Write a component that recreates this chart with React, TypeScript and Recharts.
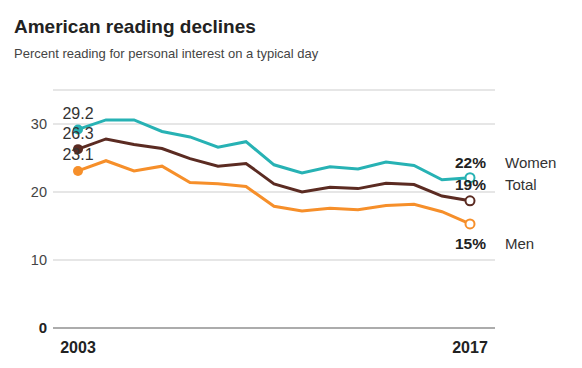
import React from "react";
import {
  LineChart,
  Line,
  XAxis,
  YAxis,
  CartesianGrid,
  LabelList,
} from "recharts";

const years = [
  2003, 2004, 2005, 2006, 2007, 2008, 2009, 2010, 2011, 2012, 2013, 2014,
  2015, 2016, 2017,
];
const women = [
  29.2, 30.6, 30.6, 28.9, 28.1, 26.6, 27.4, 24.0, 22.8, 23.7, 23.4, 24.4,
  23.9, 21.8, 22.1,
];
const total = [
  26.3, 27.8, 27.0, 26.4, 24.9, 23.8, 24.2, 21.2, 20.0, 20.7, 20.5, 21.3,
  21.1, 19.4, 18.7,
];
const men = [
  23.1, 24.6, 23.1, 23.8, 21.4, 21.2, 20.8, 17.9, 17.2, 17.6, 17.4, 18.0,
  18.2, 17.1, 15.3,
];
const yTicks = [0, 10, 20, 30];
const xTicks = [2003, 2017];

const data = years.map((year, i) => ({
  year,
  women: women[i],
  total: total[i],
  men: men[i],
}));

const FONT = "'Liberation Sans', Arial, sans-serif";
const last = years.length - 1;

const series = [
  { key: "women", name: "Women", color: "#27b2b4", endDy: -10 },
  { key: "total", name: "Total", color: "#5b2b22", endDy: -11 },
  { key: "men", name: "Men", color: "#f68f2a", endDy: 25 },
];

function makeDot(color: string) {
  return (props: any) => {
    const { cx, cy, index } = props;
    if (index === 0) {
      return <circle key={`d${index}`} cx={cx} cy={cy} r={5} fill={color} />;
    }
    if (index === last) {
      return (
        <circle
          key={`d${index}`}
          cx={cx}
          cy={cy}
          r={4.5}
          fill="#fff"
          stroke={color}
          strokeWidth={2}
        />
      );
    }
    return <g key={`d${index}`} />;
  };
}

function makeLabel(name: string, endDy: number) {
  return (props: any) => {
    const { x, y, value, index } = props;
    if (index === 0) {
      return (
        <text
          key={`l${index}`}
          x={x}
          y={y - 10.5}
          textAnchor="middle"
          fontSize={16}
          fill="#333"
          fontFamily={FONT}
        >
          {value}
        </text>
      );
    }
    if (index === last) {
      return (
        <g key={`l${index}`}>
          <text
            x={x + 16}
            y={y + endDy}
            textAnchor="end"
            fontSize={15.5}
            fontWeight="bold"
            fill="#222"
            fontFamily={FONT}
          >
            {Math.round(value)}%
          </text>
          <text
            x={x + 35}
            y={y + endDy}
            fontSize={15}
            fill="#333"
            fontFamily={FONT}
          >
            {name}
          </text>
        </g>
      );
    }
    return null;
  };
}

const renderYTick = (props: any) => {
  const { x, y, payload } = props;
  const zero = payload.value === 0;
  return (
    <text
      x={x}
      y={y}
      dy={5}
      textAnchor="end"
      fontSize={zero ? 15 : 14.5}
      fontWeight={zero ? "bold" : "normal"}
      fill={zero ? "#222" : "#444"}
      fontFamily={FONT}
    >
      {payload.value}
    </text>
  );
};

export default function App() {
  return (
    <div
      style={{
        position: "absolute",
        left: 0,
        top: 0,
        width: 582,
        height: 368,
        background: "#fff",
        fontFamily: FONT,
      }}
    >
      <div
        style={{
          position: "absolute",
          left: 14,
          top: 17,
          fontSize: 19,
          lineHeight: "19px",
          fontWeight: "bold",
          color: "#222",
          whiteSpace: "nowrap",
        }}
      >
        American reading declines
      </div>
      <div
        style={{
          position: "absolute",
          left: 14,
          top: 47,
          fontSize: 13,
          lineHeight: "13px",
          color: "#444",
          whiteSpace: "nowrap",
        }}
      >
        Percent reading for personal interest on a typical day
      </div>
      <LineChart
        width={582}
        height={368}
        data={data}
        margin={{ top: 90, right: 87, bottom: 0, left: 0 }}
      >
        <CartesianGrid vertical={false} stroke="#dedede" strokeWidth={1.5} />
        <XAxis
          dataKey="year"
          type="number"
          domain={[2003, 2017]}
          ticks={xTicks}
          padding={{ left: 25, right: 25 }}
          height={40}
          tickLine={false}
          axisLine={{ stroke: "#999", strokeWidth: 1.5 }}
          tickSize={0}
          tickMargin={14}
          tick={{
            fontSize: 16,
            fontWeight: "bold",
            fill: "#222",
            fontFamily: FONT,
          }}
        />
        <YAxis
          domain={[0, 35]}
          ticks={yTicks}
          width={53}
          tickLine={false}
          axisLine={false}
          tickSize={0}
          tickMargin={6}
          tick={renderYTick}
        />
        {series.map((s) => (
          <Line
            key={s.key}
            dataKey={s.key}
            type="linear"
            stroke={s.color}
            strokeWidth={3}
            dot={makeDot(s.color)}
            activeDot={false}
            isAnimationActive={false}
          >
            <LabelList dataKey={s.key} content={makeLabel(s.name, s.endDy)} />
          </Line>
        ))}
      </LineChart>
    </div>
  );
}
